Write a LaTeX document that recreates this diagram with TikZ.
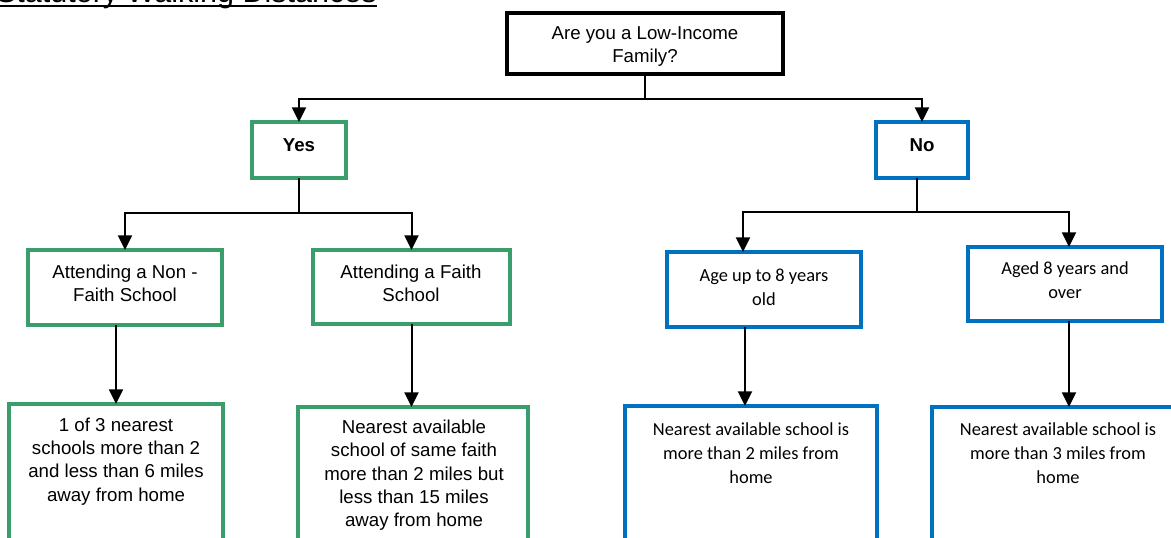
\documentclass[tikz,border=0pt]{standalone}
\usepackage{fontspec}
\setmainfont{Liberation Sans}
\newfontfamily\calibri{Carlito}
\usetikzlibrary{arrows.meta,calc}
\definecolor{bgreen}{RGB}{58,158,108}
\definecolor{bblue}{RGB}{0,112,192}
\tikzset{
  boxbase/.style={draw, inner sep=0pt, outer sep=0pt, fill=white},
  qbox/.style={boxbase, draw=black, line width=2.6pt},
  gbox/.style={boxbase, draw=bgreen, line width=2.3pt},
  bbox/.style={boxbase, draw=bblue, line width=2.3pt},
  arialtxt/.style={inner sep=0pt, align=center, font=\fontsize{14}{17.25}\selectfont},
  calitxt/.style={inner sep=0pt, align=center, font=\calibri\fontsize{13.8}{18}\selectfont},
  conn/.style={line width=1.5pt, black},
  arr/.style={conn, -{Triangle[width=10.5pt,length=11pt]}}
}
\begin{document}
\begin{tikzpicture}[x=0.75pt,y=-0.75pt]
\useasboundingbox (0,0) rectangle (1171,538);
\clip (0,0) rectangle (1171,538);
% title
\node[inner sep=0pt, anchor=base east, font=\fontsize{22.9}{27}\selectfont] (title) at (377,2.5) {Statutory Walking Distances};
\coordinate (ul) at (0,6.2);
\draw[line width=1.5pt] (title.west |- ul) -- (title.east |- ul);
% boxes
\node[qbox, minimum width=207pt, minimum height=45.75pt] (q) at (645,43.5) {};
\node[gbox, minimum width=70.5pt, minimum height=42pt] (yes) at (299,150) {};
\node[bbox, minimum width=69pt, minimum height=42pt] (no) at (922,150) {};
\node[gbox, minimum width=145.5pt, minimum height=56.25pt] (nf) at (125,287.5) {};
\node[gbox, minimum width=147.75pt, minimum height=55.5pt] (faith) at (411.5,287) {};
\node[bbox, minimum width=145.5pt, minimum height=56.25pt] (age) at (764,289.5) {};
\node[bbox, minimum width=145.5pt, minimum height=55.5pt] (aged) at (1065,284) {};
\node[gbox, minimum width=160.5pt, minimum height=177pt] (a) at (116,522) {};
\node[gbox, minimum width=172.5pt, minimum height=174.75pt] (b) at (413,523.5) {};
\node[bbox, minimum width=189pt, minimum height=175.5pt] (c) at (751,523) {};
\node[bbox, minimum width=189pt, minimum height=174.75pt] (d) at (1058,523.5) {};
% texts
\node[arialtxt] (qt) at (645,47) {Are you a Low-Income\\Family?};
\node[arialtxt, font=\bfseries\fontsize{14}{17.25}\selectfont] (yest) at (299,145) {Yes};
\node[arialtxt, font=\bfseries\fontsize{14}{17.25}\selectfont] (not) at (922,145) {No};
\node[arialtxt] (nft) at (125,283) {Attending a Non -\\Faith School};
\node[arialtxt] (faitht) at (411,283.5) {Attending a Faith\\School};
\node[calitxt] (aget) at (764,287.5) {Age up to 8 years\\old};
\node[calitxt] (agedt) at (1065,280.5) {Aged 8 years and\\over};
\node[arialtxt, font=\fontsize{14}{17.5}\selectfont] (at) at (116,461.5) {1 of 3 nearest\\schools more than 2\\and less than 6 miles\\away from home};
\node[arialtxt, font=\fontsize{14}{17.5}\selectfont] (bt) at (414,475.5) {Nearest available\\school of same faith\\more than 2 miles but\\less than 15 miles\\away from home};
\node[calitxt] (ct) at (751,453.5) {Nearest available school is\\more than 2 miles from\\home};
\node[calitxt] (dt) at (1058,453.5) {Nearest available school is\\more than 3 miles from\\home};
% connectors
\coordinate (qj) at (645,99);
\draw[conn] (q.south) -- (qj);
\draw[arr] (qj) -| (yes.north);
\draw[arr] (qj) -| (no.north);
\coordinate (yj) at (299,213);
\draw[conn] (yes.south) -- (yj);
\draw[arr] (yj) -| (nf.north);
\draw[arr] (yj) -| (faith.north);
\coordinate (nj) at (917,212);
\draw[conn] (nj |- no.south) -- (nj);
\coordinate (agein) at (743,0);
\coordinate (agedin) at (1069,0);
\draw[arr] (nj) -| (agein |- age.north);
\draw[arr] (nj) -| (agedin |- aged.north);
\draw[arr] (a.north |- nf.south) -- (a.north);
\draw[arr] (faith.south) -- (faith.south |- b.north);
\coordinate (agex) at (745,0);
\coordinate (agedx) at (1069,0);
\draw[arr] (agex |- age.south) -- (agex |- c.north);
\draw[arr] (agedx |- aged.south) -- (agedx |- d.north);
\end{tikzpicture}
\end{document}
